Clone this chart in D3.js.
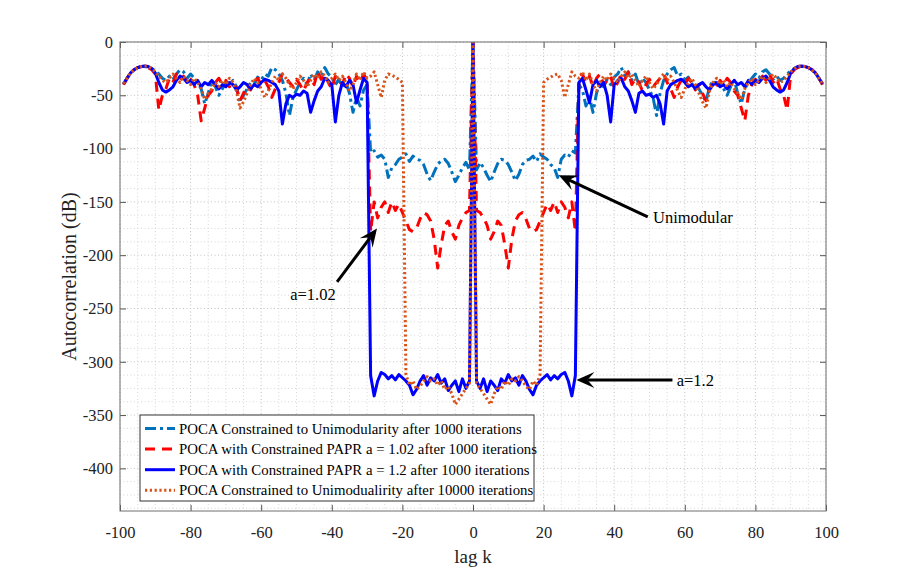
<!DOCTYPE html>
<html>
<head>
<meta charset="utf-8">
<script src="https://cdn.jsdelivr.net/npm/d3@7/dist/d3.min.js"></script>
<style>
  body { margin: 0; background: #fff; }
  text { font-family: "Liberation Serif", "Times New Roman", serif; }
</style>
</head>
<body>
<div id="chart"></div>
<script>
// autocorrelation values (dB) for lag k = 0..99.
// |r(-k)| = |r(k)|, so the negative lags reuse the same values.
const lagsHalf = d3.range(0, 100);

const uni1000 = [
  0, -120, -113, -118, -125, -131, -122, -114, -110, -111,
  -115, -122, -130, -124, -115, -111, -110, -107, -112, -105,
  -108, -110, -115, -118, -127, -110, -106, -108, -102, -104,
  -40, -45, -60, -52, -66, -48, -38, -42, -35, -40,
  -33, -30, -24, -32, -28, -36, -30, -40, -34, -38,
  -45, -52, -69, -48, -36, -30, -26, -24, -32, -30,
  -36, -33, -40, -38, -44, -50, -56, -42, -36, -40,
  -38, -44, -50, -42, -36, -48, -58, -44, -38, -34,
  -30, -34, -28, -26, -30, -35, -32, -36, -34, -30,
  -27, -25, -23.5, -23, -23, -24, -26, -29, -34, -40
];

const papr102 = [
  0, -158, -160, -165, -172, -185, -178, -168, -172, -190,
  -212, -185, -168, -162, -160, -166, -175, -178, -176, -168,
  -160, -152, -158, -150, -160, -150, -155, -165, -150, -178,
  -36, -30, -38, -32, -42, -34, -30, -40, -36, -32,
  -44, -38, -30, -35, -28, -40, -34, -38, -46, -40,
  -35, -42, -38, -34, -30, -38, -44, -52, -42, -36,
  -40, -34, -38, -45, -40, -48, -55, -44, -38, -42,
  -36, -40, -34, -38, -46, -50, -62, -74, -50, -40,
  -35, -38, -32, -36, -30, -38, -34, -44, -50, -64,
  -30, -26, -24, -23, -23, -24, -26, -29, -34, -40
];

const papr12 = [
  0, -318, -325, -316, -328, -318, -322, -327, -316, -320,
  -312, -318, -315, -322, -313, -318, -326, -331, -322, -318,
  -315, -312, -317, -313, -316, -312, -310, -318, -332, -313,
  -38, -34, -45, -57, -40, -36, -42, -38, -50, -75,
  -40, -36, -34, -42, -46, -55, -66, -48, -46, -50,
  -49, -52, -50, -58, -77, -46, -40, -38, -36, -35,
  -38, -42, -40, -44, -40, -38, -42, -45, -40, -38,
  -42, -40, -44, -40, -36, -40, -38, -42, -36, -40,
  -36, -38, -34, -32, -36, -42, -45, -47, -45, -38,
  -29, -25, -23, -22.5, -23, -24, -26, -29, -34, -39
];

const uni10000 = [
  0, -320, -325, -330, -335, -340, -330, -323, -326, -318,
  -322, -316, -318, -314, -318, -323, -326, -318, -322, -312,
  -38, -35, -33, -31, -30, -36, -52, -40, -28, -32,
  -34, -28, -36, -30, -40, -46, -38, -32, -36, -30,
  -34, -38, -32, -28, -34, -30, -36, -42, -36, -32,
  -38, -44, -40, -34, -30, -36, -32, -38, -46, -52,
  -44, -38, -34, -40, -48, -56, -62, -46, -38, -34,
  -40, -36, -42, -38, -44, -48, -54, -44, -38, -34,
  -40, -36, -32, -38, -34, -30, -34, -38, -36, -32,
  -28, -25, -23, -22.5, -23, -24, -26, -29, -34, -39
];

const seriesNames = [
  "POCA Constrained to Unimodularity after 1000 iterations",
  "POCA with Constrained PAPR a = 1.02 after 1000 iterations",
  "POCA with Constrained PAPR a = 1.2 after 1000 iterations",
  "POCA Constrained to Unimodualirity after 10000 iterations"
];
const seriesValues = [uni1000, papr102, papr12, uni10000];

const xTicks = [-100, -80, -60, -40, -20, 0, 20, 40, 60, 80, 100];
const yTicks = [0, -50, -100, -150, -200, -250, -300, -350, -400];

// annotations in data units: arrow tail, arrow tip, label position
const notes = [
  { label: "Unimodular", from: [49.5, -164], to: [24.3, -125], at: [51, -170] },
  { label: "a=1.02", from: [-38.5, -225], to: [-27.2, -175], at: [-51.8, -242] },
  { label: "a=1.2", from: [56.5, -317], to: [29.3, -317], at: [57.7, -323] }
];

// 图形参数
const WIDTH = 913;
const HEIGHT = 581;
const margin = { top: 42, right: 87, bottom: 70, left: 120 };
const innerW = WIDTH - margin.left - margin.right;
const innerH = HEIGHT - margin.top - margin.bottom;

const colors = ["#0072BD", "#FF0000", "#0000FF", "#D95319"];
const dashes = ["11,4,3,4", "10,7", null, "2.2,2.6"];

const svg = d3.select("#chart").append("svg")
  .attr("width", WIDTH)
  .attr("height", HEIGHT);

const g = svg.append("g")
  .attr("transform", `translate(${margin.left},${margin.top})`);

const x = d3.scaleLinear().domain([-100, 100]).range([0, innerW]);
const y = d3.scaleLinear().domain([-440, 0]).range([innerH, 0]);

// grid (minor + major, dotted)
const grid = g.append("g");
grid.selectAll("line.vmin")
  .data(d3.range(-100, 101, 5))
  .join("line")
  .attr("x1", d => x(d)).attr("x2", d => x(d))
  .attr("y1", 0).attr("y2", innerH)
  .attr("stroke", d => d % 20 === 0 ? "#c0c0c0" : "#d8d8d8")
  .attr("stroke-width", 1)
  .attr("stroke-dasharray", "1,2.5");
grid.selectAll("line.hmin")
  .data(d3.range(-437.5, 0.1, 12.5))
  .join("line")
  .attr("x1", 0).attr("x2", innerW)
  .attr("y1", d => y(d)).attr("y2", d => y(d))
  .attr("stroke", d => d % 50 === 0 ? "#c0c0c0" : "#d8d8d8")
  .attr("stroke-width", 1)
  .attr("stroke-dasharray", "1,2.5");

// axes (ticks pointing inward), plain hyphen for negatives
const fmt = d => String(d);
const xAxis = g.append("g")
  .attr("transform", `translate(0,${innerH})`)
  .call(d3.axisBottom(x).tickValues(xTicks).tickFormat(fmt).tickSizeInner(-6).tickSizeOuter(0).tickPadding(15));
const xAxisTop = g.append("g")
  .call(d3.axisTop(x).tickValues(xTicks).tickSizeInner(-6).tickSizeOuter(0).tickFormat(""));
const yAxis = g.append("g")
  .call(d3.axisLeft(y).tickValues(yTicks).tickFormat(fmt).tickSizeInner(-6).tickSizeOuter(0).tickPadding(7));
const yAxisRight = g.append("g")
  .attr("transform", `translate(${innerW},0)`)
  .call(d3.axisRight(y).tickValues(yTicks).tickSizeInner(-6).tickSizeOuter(0).tickFormat(""));

[xAxis, xAxisTop, yAxis, yAxisRight].forEach(a => {
  a.select(".domain").remove();
  a.selectAll(".tick line").attr("stroke", "#555");
  a.selectAll("text")
    .attr("font-size", 16.5)
    .attr("fill", "#222");
});

// series
g.append("clipPath").attr("id", "plotClip")
  .append("rect").attr("width", innerW).attr("height", innerH);

const line = d3.line()
  .x(d => x(d[0]))
  .y(d => y(d[1]));

const lines = g.append("g").attr("clip-path", "url(#plotClip)");
seriesValues.forEach((vals, i) => {
  const pts = [];
  for (let k = 99; k >= 1; k--) pts.push([-lagsHalf[k], vals[k]]);
  lagsHalf.forEach(k => pts.push([k, vals[k]]));
  lines.append("path")
    .datum(pts)
    .attr("d", line)
    .attr("fill", "none")
    .attr("stroke", colors[i])
    .attr("stroke-width", 3)
    .attr("stroke-linejoin", "round")
    .attr("stroke-dasharray", dashes[i]);
});

// frame
g.append("rect")
  .attr("width", innerW).attr("height", innerH)
  .attr("fill", "none")
  .attr("stroke", "#6e6e6e")
  .attr("stroke-width", 1);

// arrows + labels
function arrow(layer, x1, y1, x2, y2) {
  const ang = Math.atan2(y2 - y1, x2 - x1);
  const L = 18, W = 8, notch = 11;
  const ux = Math.cos(ang), uy = Math.sin(ang);
  const px = -uy, py = ux;
  const bx = x2 - ux * L, by = y2 - uy * L;
  const nx = x2 - ux * notch, ny = y2 - uy * notch;
  layer.append("line")
    .attr("x1", x1).attr("y1", y1)
    .attr("x2", nx).attr("y2", ny)
    .attr("stroke", "#000").attr("stroke-width", 3);
  layer.append("path")
    .attr("d", `M${x2},${y2} L${bx + px * W},${by + py * W} L${nx},${ny} L${bx - px * W},${by - py * W} Z`)
    .attr("fill", "#000");
}

const noteLayer = g.append("g");
notes.forEach(n => {
  arrow(noteLayer, x(n.from[0]), y(n.from[1]), x(n.to[0]), y(n.to[1]));
  noteLayer.append("text")
    .attr("x", x(n.at[0]))
    .attr("y", y(n.at[1]))
    .attr("font-size", 16.5)
    .attr("fill", "#000")
    .text(n.label);
});

// axis labels
svg.append("text")
  .attr("x", margin.left + innerW / 2)
  .attr("y", 563)
  .attr("text-anchor", "middle")
  .attr("font-size", 19)
  .attr("fill", "#222")
  .text("lag k");

svg.append("text")
  .attr("transform", `translate(76,${margin.top + innerH / 2}) rotate(-90)`)
  .attr("text-anchor", "middle")
  .attr("font-size", 20)
  .attr("fill", "#222")
  .text("Autocorrelation (dB)");

// legend
const legend = g.append("g").attr("transform", `translate(${140 - margin.left},${415 - margin.top})`);
legend.append("rect")
  .attr("width", 394).attr("height", 86)
  .attr("fill", "#fff")
  .attr("stroke", "#333")
  .attr("stroke-width", 1);

seriesNames.forEach((name, i) => {
  const ly = 13.5 + i * 20.6;
  legend.append("line")
    .attr("x1", 5).attr("x2", 35)
    .attr("y1", ly).attr("y2", ly)
    .attr("stroke", colors[i])
    .attr("stroke-width", 3)
    .attr("stroke-dasharray", dashes[i]);
  legend.append("text")
    .attr("x", 39)
    .attr("y", ly + 5)
    .attr("font-size", 14.8)
    .attr("fill", "#000")
    .text(name);
});
</script>
</body>
</html>
